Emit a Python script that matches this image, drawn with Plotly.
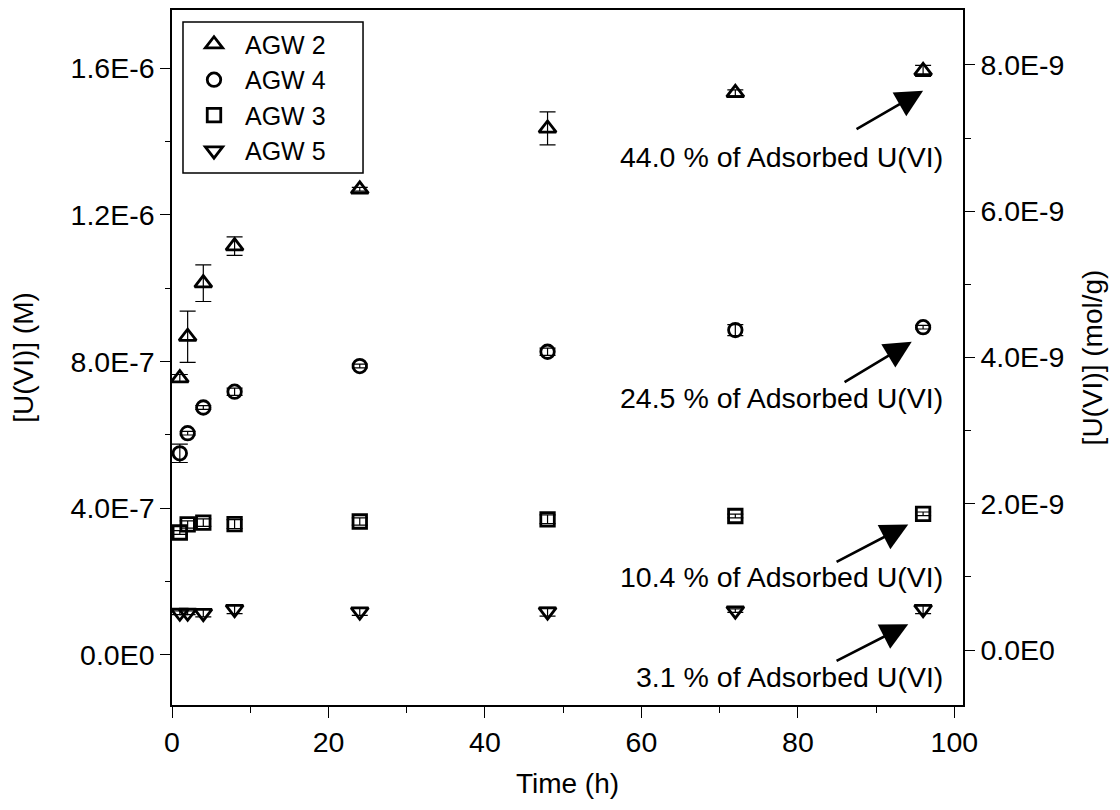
import plotly.graph_objects as go

# ---------------- data ----------------
time_h = [1, 2, 4, 8, 24, 48, 72, 96]

agw2 = [0.755e-6, 0.868e-6, 1.014e-6, 1.115e-6, 1.270e-6, 1.436e-6, 1.533e-6, 1.593e-6]
agw2_err = [0.010e-6, 0.070e-6, 0.050e-6, 0.025e-6, 0.005e-6, 0.045e-6, 0.008e-6, 0.015e-6]

agw4 = [0.550e-6, 0.605e-6, 0.675e-6, 0.718e-6, 0.788e-6, 0.827e-6, 0.886e-6, 0.894e-6]
agw4_err = [0.025e-6, 0.005e-6, 0.005e-6, 0.010e-6, 0.005e-6, 0.010e-6, 0.015e-6, 0.005e-6]

agw3 = [0.334e-6, 0.356e-6, 0.361e-6, 0.357e-6, 0.364e-6, 0.370e-6, 0.379e-6, 0.385e-6]
agw3_err = [0.005e-6, 0.010e-6, 0.010e-6, 0.012e-6, 0.010e-6, 0.012e-6, 0.005e-6, 0.005e-6]

agw5 = [0.115e-6, 0.115e-6, 0.114e-6, 0.125e-6, 0.118e-6, 0.118e-6, 0.121e-6, 0.125e-6]
agw5_err = [0.005e-6, 0.005e-6, 0.010e-6, 0.012e-6, 0.010e-6, 0.012e-6, 0.005e-6, 0.012e-6]

series_names = ["AGW 2", "AGW 4", "AGW 3", "AGW 5"]

x_tick_vals = [0, 20, 40, 60, 80, 100]
x_tick_text = ["0", "20", "40", "60", "80", "100"]
left_tick_vals = [0, 4e-7, 8e-7, 1.2e-6, 1.6e-6]
left_tick_text = ["0.0E0", "4.0E-7", "8.0E-7", "1.2E-6", "1.6E-6"]
right_tick_vals = [0, 2e-9, 4e-9, 6e-9, 8e-9]
right_tick_text = ["0.0E0", "2.0E-9", "4.0E-9", "6.0E-9", "8.0E-9"]

ann_texts = ["44.0 % of Adsorbed U(VI)", "24.5 % of Adsorbed U(VI)",
             "10.4 % of Adsorbed U(VI)", "3.1 % of Adsorbed U(VI)"]
ann_text_x = [98.8, 98.8, 98.8, 98.8]
ann_text_y = [1.358e-6, 0.700e-6, 0.2135e-6, -0.059e-6]
arrow_head_x = [96.0, 94.55, 94.1, 94.1]
arrow_head_y = [1.539e-6, 0.854e-6, 0.356e-6, 0.0837e-6]
arrow_tail_x = [87.3, 85.77, 84.75, 84.75]
arrow_tail_y = [1.432e-6, 0.742e-6, 0.252e-6, -0.0183e-6]

FONT = "Liberation Sans, Arial, sans-serif"
FS_TICK = 28.5
FS_TITLE = 28
FS_ANN = 28.5
FS_LEG = 25

fig = go.Figure()

styles = [("triangle-up-open", 15), ("circle-open", 13.5),
          ("square-open", 13.5), ("triangle-down-open", 15)]
data = [(agw2, agw2_err), (agw4, agw4_err), (agw3, agw3_err), (agw5, agw5_err)]

for name, (sym, sz), (yv, ev) in zip(series_names, styles, data):
    fig.add_trace(go.Scatter(
        x=time_h, y=yv, mode="markers", name=name,
        marker=dict(symbol=sym, size=sz, color="black",
                    line=dict(color="black", width=2.8)),
        error_y=dict(type="data", array=ev, visible=True,
                     color="black", thickness=1.2, width=8),
    ))

# invisible trace to anchor the right axis
fig.add_trace(go.Scatter(x=[None], y=[None], yaxis="y2", showlegend=False,
                         hoverinfo="skip"))

annotations = []
for t, tx, ty in zip(ann_texts, ann_text_x, ann_text_y):
    annotations.append(dict(x=tx, y=ty, xref="x", yref="y", text=t,
                            showarrow=False, xanchor="right", yanchor="middle",
                            font=dict(family=FONT, size=FS_ANN, color="black")))
for hx, hy, tx, ty in zip(arrow_head_x, arrow_head_y, arrow_tail_x, arrow_tail_y):
    annotations.append(dict(x=hx, y=hy, xref="x", yref="y",
                            ax=tx, ay=ty, axref="x", ayref="y",
                            text="", showarrow=True, arrowhead=2,
                            arrowsize=2.1, arrowwidth=2.6, arrowcolor="black",
                            standoff=0))

# legend frame (drawn as a paper-referenced rectangle so it can be wider than the text)
legend_frame = dict(type="rect", xref="paper", yref="paper",
                    x0=0.0139, x1=0.2415, y0=0.7655, y1=0.9827,
                    line=dict(color="black", width=1.5), fillcolor="rgba(0,0,0,0)",
                    layer="above")

fig.update_layout(
    width=1120, height=810,
    margin=dict(l=164, r=165, t=2, b=113),
    paper_bgcolor="white", plot_bgcolor="white",
    font=dict(family=FONT, size=FS_TICK, color="black"),
    showlegend=True,
    legend=dict(x=0.0139, y=0.9835, xanchor="left", yanchor="top",
                borderwidth=0, bgcolor="rgba(0,0,0,0)",
                itemwidth=52,
                font=dict(family=FONT, size=FS_LEG, color="black")),
    shapes=[legend_frame],
    xaxis=dict(range=[0, 101.1], tickmode="array", tickvals=x_tick_vals,
               ticktext=x_tick_text, ticks="outside", ticklen=11, tickwidth=1.2,
               tickcolor="black", showline=True, linecolor="black", linewidth=1.5,
               mirror=True, showgrid=False, zeroline=False, automargin=False,
               tickfont=dict(family=FONT, size=FS_TICK),
               minor=dict(dtick=10, tick0=0, ticks="outside", ticklen=6,
                          tickwidth=1.2, tickcolor="black", showgrid=False),
               title=dict(text="Time (h)", standoff=16,
                          font=dict(family=FONT, size=FS_TITLE))),
    yaxis=dict(range=[-1.364e-7, 1.759e-6], tickmode="array",
               tickvals=left_tick_vals, ticktext=left_tick_text,
               ticks="outside", ticklen=10, tickwidth=1.2, tickcolor="black",
               showline=True, linecolor="black", linewidth=1.5,
               showgrid=False, zeroline=False, automargin=False,
               tickfont=dict(family=FONT, size=FS_TICK),
               minor=dict(dtick=2e-7, tick0=0, ticks="outside", ticklen=5,
                          tickwidth=1.2, tickcolor="black", showgrid=False),
               title=dict(text="[U(VI)] (M)", standoff=29,
                          font=dict(family=FONT, size=FS_TITLE))),
    yaxis2=dict(overlaying="y", side="right", anchor="x",
                range=[-0.752e-9, 8.75e-9], tickmode="array",
                tickvals=right_tick_vals, ticktext=right_tick_text,
                ticks="outside", ticklen=10, tickwidth=1.2, tickcolor="black",
                showline=True, linecolor="black", linewidth=1.5,
                showgrid=False, zeroline=False, automargin=False,
                tickfont=dict(family=FONT, size=FS_TICK),
                minor=dict(dtick=1e-9, tick0=0, ticks="outside", ticklen=6,
                           tickwidth=1.2, tickcolor="black", showgrid=False),
                title=dict(text="[U(VI)] (mol/g)", standoff=19,
                           font=dict(family=FONT, size=FS_TITLE))),
    annotations=annotations,
)

fig.write_html("out.html")
